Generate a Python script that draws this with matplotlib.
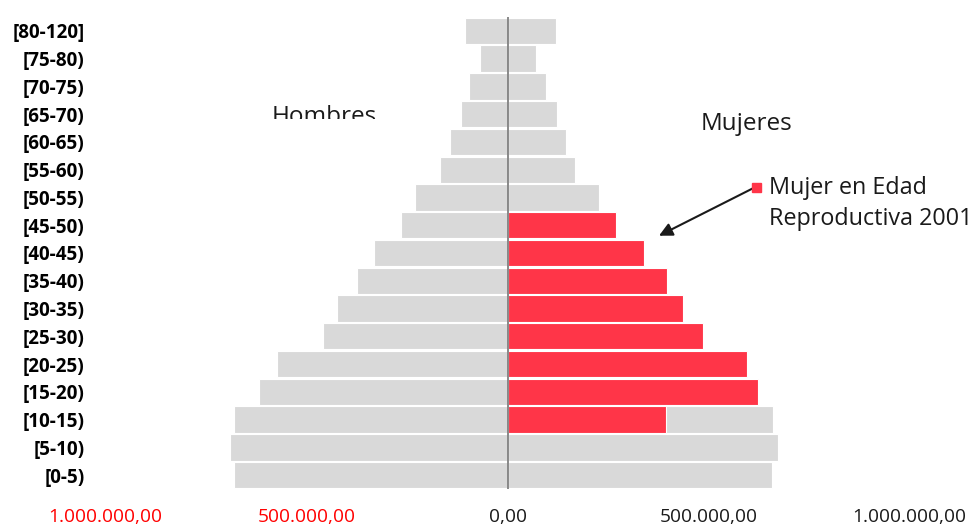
import matplotlib
matplotlib.use("Agg")
import matplotlib.pyplot as plt
from matplotlib.ticker import FuncFormatter
from matplotlib.transforms import Bbox, TransformedBbox

# ---- data (bottom to top) ----
age_groups = ['[0-5)', '[5-10)', '[10-15)', '[15-20)', '[20-25)', '[25-30)', '[30-35)',
              '[35-40)', '[40-45)', '[45-50)', '[50-55)', '[55-60)', '[60-65)', '[65-70)',
              '[70-75)', '[75-80)', '[80-120]']
hombres = [680000, 691000, 681000, 618000, 573000, 458000, 424000, 374000, 333000,
           265000, 230000, 168000, 144000, 116000, 95000, 68000, 106000]
mujeres = [657000, 672000, 661000, 622000, 597000, 487000, 437000, 398000, 339000,
           271000, 228000, 168000, 146000, 123000, 96000, 70000, 121000]
# women of reproductive age (2001), shown in red
mujer_edad_reprod = [0, 0, 394000, 622000, 597000, 487000, 437000, 398000, 339000,
                     271000, 0, 0, 0, 0, 0, 0, 0]
xticks = [-1000000, -500000, 0, 500000, 1000000]

GRAY = '#D9D9D9'
RED = '#FF3548'
FONT = 'Open Sans'

W, H = 975, 526
fig = plt.figure(figsize=(W / 100, H / 100), dpi=100)

def fx(x):
    return x / W

def fy(y):
    return 1 - y / H

# axes: -1M at px 105.5, +1M at px 909.5 ; rows from y=17 to 489
ax = fig.add_axes([fx(105.5), fy(489), (909.5 - 105.5) / W, (489 - 17) / H])

ypos = list(range(len(age_groups)))
ax.barh(ypos, [-v for v in hombres], height=0.95, color=GRAY, edgecolor='white', linewidth=0.8)
ax.barh(ypos, mujeres, height=0.95, color=GRAY, edgecolor='white', linewidth=0.8)
ax.barh(ypos, mujer_edad_reprod, height=0.95, color=RED, edgecolor='white', linewidth=0.8)
ax.axvline(0, color='#808080', linewidth=1.3)

ax.set_xlim(-1000000, 1000000)
ax.set_ylim(-0.5, len(age_groups) - 0.5)
ax.set_yticks(ypos)
ax.set_yticklabels(age_groups, fontfamily=FONT, fontweight='bold', fontsize=13.6)
ax.set_xticks(xticks)

def fmt(v, pos):
    s = f"{abs(v):,.2f}"
    return s.replace(',', 'X').replace('.', ',').replace('X', '.')

ax.xaxis.set_major_formatter(FuncFormatter(fmt))
for lab in ax.get_xticklabels():
    lab.set_fontfamily(FONT)
    lab.set_fontsize(13.8)
ax.tick_params(axis='y', length=0, pad=15)
ax.tick_params(axis='x', length=0, pad=14)
fig.canvas.draw()
for t, lab in zip(xticks, ax.get_xticklabels()):
    lab.set_color('#FF0000' if t < 0 else '#1a1a1a')
for s in ax.spines.values():
    s.set_visible(False)

# titles
t_h = fig.text(fx(272), fy(105), 'Hombres', fontfamily=FONT, fontsize=17.5,
               ha='left', va='top', color='#1a1a1a')
t_h.set_clip_on(True)
t_h.set_clip_box(TransformedBbox(Bbox([[fx(200), fy(118.5)], [fx(450), fy(90)]]),
                                 fig.transFigure))
fig.text(fx(701), fy(112), 'Mujeres', fontfamily=FONT, fontsize=17.5,
         ha='left', va='top', color='#1a1a1a')

# legend-like annotation
fig.patches.append(plt.Rectangle((fx(751.5), fy(191.5)), 9 / W, 9 / H,
                                 transform=fig.transFigure, color=RED, figure=fig))
fig.text(fx(769), fy(176), 'Mujer en Edad', fontfamily=FONT, fontsize=16.8,
         ha='left', va='top', color='#1a1a1a')
fig.text(fx(769), fy(207), 'Reproductiva 2001', fontfamily=FONT, fontsize=16.8,
         ha='left', va='top', color='#1a1a1a')
fig.add_artist(matplotlib.patches.FancyArrowPatch(
    (fx(756.5), fy(186.5)), (fx(656.5), fy(237)), transform=fig.transFigure,
    arrowstyle='-|>,head_length=8,head_width=4', mutation_scale=1,
    color='#1a1a1a', linewidth=1.5))

fig.savefig('out.png', dpi=100)
